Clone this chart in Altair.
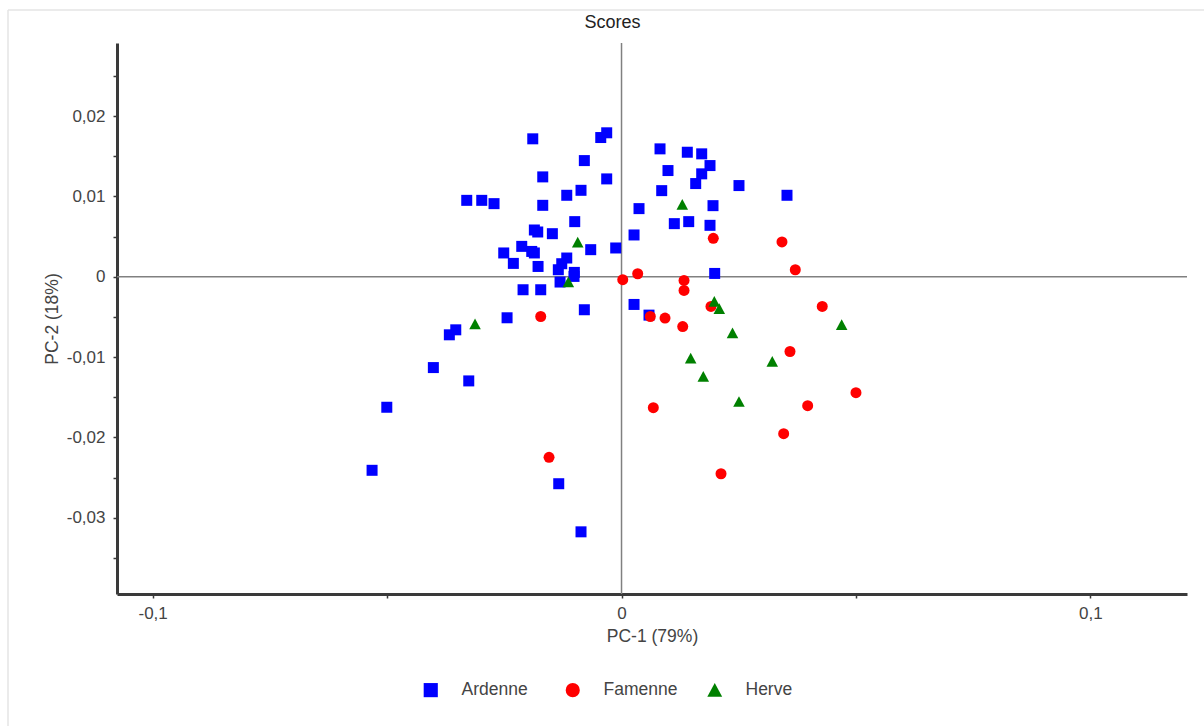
import altair as alt
import pandas as pd

# Score plot of the first two principal components, one group per region
regions = ["Ardenne", "Famenne", "Herve"]
region_colors = ["#0000ff", "#ff0000", "#008000"]
# square, circle and a slightly tall upward triangle
region_shapes = ["square", "circle", "M0,-1L1.05,0.95L-1.05,0.95Z"]

ardenne_pc1 = [
    -0.01893, -0.00443, -0.00316, -0.00793, -0.01680, -0.00316, -0.03301, -0.02981,
    -0.02719, -0.01680, -0.01168, -0.00864, -0.00998, -0.01859, -0.01787, -0.01475,
    -0.02128, -0.01915, -0.01859, -0.02512, -0.02307, -0.01780, -0.00657, -0.00124,
    -0.01168, -0.01275, -0.01348, -0.01006, -0.01013, -0.01311, -0.02100, -0.01723,
    -0.00793, -0.02441, -0.03535, -0.03672, -0.04013, -0.03258, -0.05006, -0.05320,
    -0.01339, -0.00864, 0.00821, 0.01403, 0.01710, 0.01887, 0.00991, 0.01710,
    0.01582, 0.00857, 0.02505, 0.03529, 0.00373, 0.01951, 0.01126, 0.01433,
    0.01887, 0.00267, 0.01987, 0.00267, 0.00586,
]
ardenne_pc2 = [
    0.01717, 0.01733, 0.01792, 0.01446, 0.01243, 0.01218, 0.00951, 0.00951,
    0.00910, 0.00889, 0.01014, 0.01076, 0.00686, 0.00582, 0.00557, 0.00536,
    0.00378, 0.00315, 0.00296, 0.00296, 0.00166, 0.00128, 0.00337, 0.00358,
    0.00233, 0.00162, 0.00087, 0.00054, 0.00004, -0.00066, -0.00162, -0.00162,
    -0.00411, -0.00511, -0.00661, -0.00723, -0.01131, -0.01297, -0.01625, -0.02410,
    -0.02577, -0.03176, 0.01592, 0.01550, 0.01530, 0.01384, 0.01322, 0.01281,
    0.01160, 0.01072, 0.01135, 0.01014, 0.00848, 0.00885, 0.00661, 0.00686,
    0.00640, 0.00520, 0.00041, -0.00345, -0.00478,
]

famenne_pc1 = [
    -0.01723, 0.00026, 0.01957, 0.03422, 0.03706, 0.00345, 0.01333, 0.01333,
    0.01908, 0.04281, 0.00614, 0.00928, 0.01305, 0.03593, 0.05000, 0.03970,
    0.00678, 0.03458, 0.02122, -0.01546,
]
famenne_pc2 = [
    -0.00495, -0.00037, 0.00478, 0.00433, 0.00087, 0.00037, -0.00046, -0.00171,
    -0.00370, -0.00370, -0.00495, -0.00515, -0.00620, -0.00931, -0.01443, -0.01605,
    -0.01630, -0.01954, -0.02453, -0.02248,
]

herve_pc1 = [
    -0.00934, -0.01134, -0.03124, 0.01296, 0.01979, 0.02085, 0.02367, 0.04695,
    0.01475, 0.01744, 0.03215, 0.02505,
]
herve_pc2 = [
    0.00428, -0.00066, -0.00590, 0.00898, -0.00308, -0.00399, -0.00702, -0.00599,
    -0.01014, -0.01243, -0.01056, -0.01555,
]

x_ticks = [-0.1, -0.05, 0, 0.05, 0.1]
y_ticks = [-0.035, -0.03, -0.025, -0.02, -0.015, -0.01, -0.005, 0,
           0.005, 0.01, 0.015, 0.02, 0.025]

rows = []
for name, xs, ys in [
    ("Ardenne", ardenne_pc1, ardenne_pc2),
    ("Famenne", famenne_pc1, famenne_pc2),
    ("Herve", herve_pc1, herve_pc2),
]:
    for a, b in zip(xs, ys):
        rows.append({"pc1": a, "pc2": b, "region": name})
scores = pd.DataFrame(rows)
origin = pd.DataFrame({"v": [0]})

FONT = "Liberation Sans"
AXIS_DARK = "#3a3a3a"
TEXT = "#444444"

# decimal comma labels, minor ticks left unlabelled
x_label = ("abs(datum.value*10 - round(datum.value*10)) > 0.001 ? '' : "
           "(datum.value < 0 ? '-' : '') + replace(format(abs(datum.value), '~g'), '.', ',')")
y_label = ("abs(datum.value*100 - round(datum.value*100)) > 0.001 ? '' : "
           "(datum.value < 0 ? '-' : '') + replace(format(abs(datum.value), '~g'), '.', ',')")

x_scale = alt.Scale(domain=[-0.1076, 0.1206], nice=False, zero=False)
y_scale = alt.Scale(domain=[-0.0395, 0.0291], nice=False, zero=False)

x_axis = alt.Axis(
    values=x_ticks, labelExpr=x_label, grid=False,
    domainColor=AXIS_DARK, domainWidth=3, tickColor=AXIS_DARK, tickWidth=1.5,
    tickSize=4, labelPadding=7, labelFontSize=17, labelColor=TEXT, labelFont=FONT,
    labelFlush=False, title="PC-1 (79%)", titleFontSize=17.5, titleFont=FONT,
    titleFontWeight="normal", titleColor=TEXT, titleY=42, titleBaseline="middle",
)
y_axis = alt.Axis(
    values=y_ticks, labelExpr=y_label, grid=False,
    domainColor=AXIS_DARK, domainWidth=3, tickColor=AXIS_DARK, tickWidth=1.5,
    tickSize=4, labelPadding=8, labelFontSize=17, labelColor=TEXT, labelFont=FONT,
    labelFlush=False, title="PC-2 (18%)", titleFontSize=17.5, titleFont=FONT,
    titleFontWeight="normal", titleColor=TEXT, titleX=-65, titleY=275.5,
    titleAngle=-90, titleBaseline="middle", titleAlign="center",
)

points = alt.Chart(scores).mark_point(filled=True, opacity=1, strokeWidth=0, size=121).encode(
    x=alt.X("pc1:Q", scale=x_scale, axis=x_axis),
    y=alt.Y("pc2:Q", scale=y_scale, axis=y_axis),
    color=alt.Color(
        "region:N",
        scale=alt.Scale(domain=regions, range=region_colors),
        legend=alt.Legend(
            title=None, orient="none", legendX=305, legendY=638,
            direction="horizontal", columns=3, gridAlign="all",
            symbolSize=200, symbolStrokeWidth=0, symbolOpacity=1,
            labelFontSize=17.5, labelFont=FONT, labelColor=TEXT,
            labelOffset=22, columnPadding=28, padding=0,
        ),
    ),
    shape=alt.Shape("region:N", scale=alt.Scale(domain=regions, range=region_shapes)),
)

# zero reference lines through the origin
zero_v = alt.Chart(origin).mark_rule(color="#808080", strokeWidth=1.5).encode(x=alt.X("v:Q"))
zero_h = alt.Chart(origin).mark_rule(color="#808080", strokeWidth=1.5).encode(y=alt.Y("v:Q"))

# light frame along the top and left edges of the figure
frame_top = alt.Chart(origin).mark_rule(color="#e4e4e4", strokeWidth=1.5).encode(
    x=alt.value(-109), x2=alt.value(1087), y=alt.value(-33))
frame_left = alt.Chart(origin).mark_rule(color="#e4e4e4", strokeWidth=1.5).encode(
    x=alt.value(-109), y=alt.value(-33), y2=alt.value(683))

chart = alt.layer(frame_top, frame_left, zero_v, zero_h, points).properties(
    width=1070,
    height=551,
    title=alt.TitleParams(
        "Scores", fontSize=18, font=FONT, fontWeight="normal", color="#222222",
        anchor="middle", dx=-39.5, offset=0, dy=36.5, baseline="alphabetic",
    ),
    autosize=alt.AutoSizeParams(type="none"),
    padding={"left": 117, "top": 43, "right": 17, "bottom": 132},
).configure(
    background="white", font=FONT,
).configure_view(stroke=None)

chart.save("out.html", embed_options={"renderer": "svg", "actions": False})
